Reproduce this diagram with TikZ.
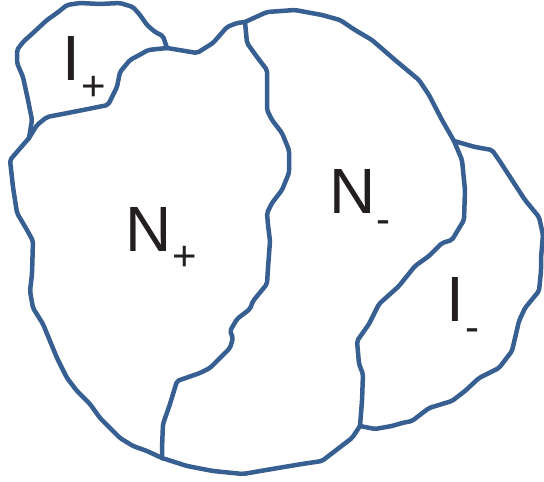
\documentclass[tikz,border=0pt]{standalone}
\usepackage{fontspec}
\setmainfont{Liberation Sans}
\usetikzlibrary{positioning}
\definecolor{regionblue}{RGB}{55,95,145}
\definecolor{labelblack}{RGB}{35,31,32}

\tikzset{
  border/.style={draw=regionblue, line width=4.5pt, line join=round, line cap=round, rounded corners=2pt},
  biglbl/.style={inner sep=0pt, text=labelblack, font=\fontsize{64}{64}\selectfont},
  sublbl/.style={inner sep=0pt, text=labelblack, font=\fontsize{42}{42}\selectfont}
}

\begin{document}
\begin{tikzpicture}[x=1pt, y=-1pt]
    \useasboundingbox (0,0) rectangle (544,482);

    % junctions of the region borders
    \coordinate (jA) at (167,48);
    \coordinate (jB) at (29,138);
    \coordinate (jC) at (245,22);
    \coordinate (jD) at (454,141);
    \coordinate (jE) at (360,426);
    \coordinate (jF) at (162,458);

    % outer border
    \draw[border] (jB) -- (32,120) -- (28,100) -- (23,77) -- (17,63) -- (17,50)
      -- (23,42) -- (33,33) -- (47,20) -- (57,13) -- (67,5) -- (80,3) -- (100,4)
      -- (120,3) -- (133,7) -- (140,15) -- (147,25) -- (155,32) -- (163,36) -- (jA);
    \draw[border] (jA) -- (197,53) -- (213,43) -- (227,27) -- (237,23) -- (jC);
    \draw[border] (jC) -- (267,12) -- (295,10) -- (322,15) -- (340,20) -- (355,30)
      -- (372,40) -- (395,60) -- (419,80) -- (429,95) -- (442,120) -- (jD);
    \draw[border] (jD) -- (475,147) -- (492,150) -- (499,160) -- (512,180)
      -- (525,200) -- (539,217) -- (543,235) -- (541,258) -- (541,271) -- (539,291)
      -- (525,308) -- (519,321) -- (512,351) -- (499,368) -- (479,378) -- (465,391)
      -- (452,401) -- (429,408) -- (412,421) -- (402,423) -- (392,426) -- (375,429) -- (jE);
    \draw[border] (jE) -- (352,438) -- (335,451) -- (322,461) -- (302,464)
      -- (272,469) -- (243,474) -- (213,471) -- (187,466) -- (jF);
    \draw[border] (jF) -- (147,451) -- (133,446) -- (120,438) -- (110,428)
      -- (100,418) -- (90,404) -- (77,391) -- (67,378) -- (57,358) -- (50,341)
      -- (43,324) -- (33,308) -- (30,291) -- (32,274) -- (33,241) -- (27,230)
      -- (17,213) -- (13,187) -- (10,160) -- (jB);

    % inner borders
    \draw[border] (jA) -- (148,50) -- (143,53) -- (130,60) -- (120,72) -- (117,87)
      -- (108,105) -- (83,110) -- (47,117) -- (37,125) -- (jB);
    \draw[border] (jF) -- (162,448) -- (163,424) -- (170,404) -- (177,381)
      -- (200,373) -- (210,368) -- (230,348) -- (233,338) -- (230,331) -- (237,319)
      -- (250,309) -- (253,301) -- (267,284) -- (268,268) -- (270,241) -- (268,225)
      -- (267,213) -- (272,203) -- (282,190) -- (289,173) -- (289,150) -- (282,133)
      -- (272,120) -- (267,110) -- (267,70) -- (257,57) -- (247,43) -- (jC);
    \draw[border] (jD) -- (462,160) -- (465,190) -- (464,220) -- (452,240)
      -- (442,243) -- (429,256) -- (415,266) -- (399,286) -- (379,304) -- (369,324)
      -- (357,341) -- (359,364) -- (363,374) -- (362,401) -- (jE);

    % labels
    \node[biglbl, anchor=base west] (Iplus) at (62,80) {I};
    \node[sublbl, anchor=base] (Iplussub) at (93.5,100) {+};
    \node[biglbl, anchor=base west] (Nplus) at (125,251) {N};
    \node[sublbl, anchor=base] (Nplussub) at (185,270) {+};
    \node[biglbl, anchor=base west] (Nminus) at (329,213) {N};
    \node[sublbl, anchor=base] (Nminussub) at (383.5,233) {-};
    \node[biglbl, anchor=base west] (Iminus) at (446,321) {I};
    \node[sublbl, anchor=base] (Iminussub) at (472,341) {-};
\end{tikzpicture}
\end{document}
